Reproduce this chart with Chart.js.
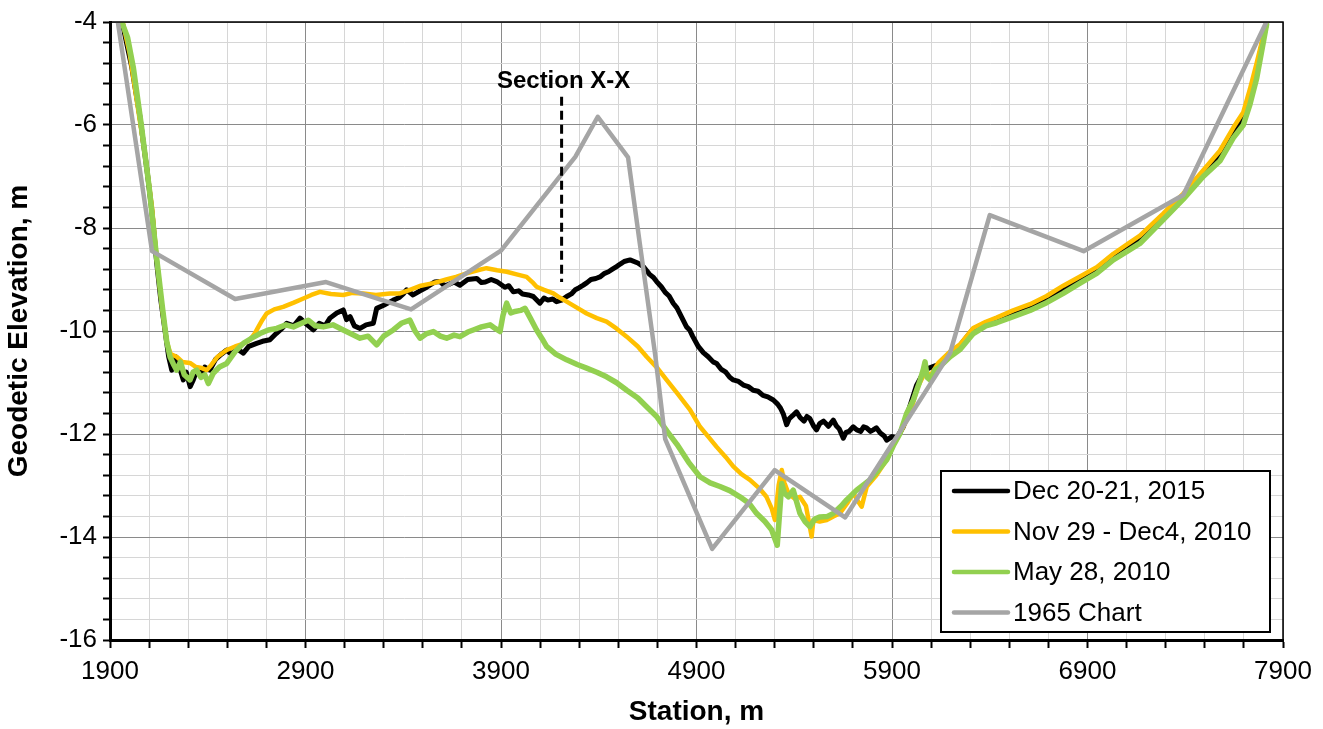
<!DOCTYPE html>
<html>
<head>
<meta charset="utf-8">
<script src="https://cdn.jsdelivr.net/npm/chart.js@4.4.1/dist/chart.umd.min.js"></script>
<style>
html, body { margin: 0; padding: 0; background: #fff; }
</style>
</head>
<body>
<canvas id="myChart" width="1323" height="729"></canvas>
<script>
// station (m), elevation (m)
const dec2015 = [
  [1965,-4.05],[1990,-4.5],[2011,-4.87],[2053,-5.84],[2090,-6.9],[2115,-7.7],[2139,-8.68],[2160,-9.4],
  [2181,-9.98],[2200,-10.5],[2216,-10.76],[2235,-10.5],[2255,-10.7],[2275,-10.95],[2290,-10.8],[2310,-11.08],
  [2326,-10.95],[2345,-10.75],[2365,-10.85],[2385,-10.7],[2411,-10.76],[2440,-10.55],[2470,-10.45],[2497,-10.37],
  [2520,-10.45],[2550,-10.35],[2582,-10.43],[2610,-10.3],[2650,-10.24],[2680,-10.2],[2718,-10.17],[2750,-10.05],
  [2780,-9.95],[2804,-9.85],[2840,-9.9],[2872,-9.75],[2900,-9.85],[2940,-9.98],[2970,-9.85],[3000,-9.9],
  [3025,-9.75],[3060,-9.65],[3093,-9.59],[3110,-9.78],[3128,-9.72],[3150,-9.9],[3179,-9.95],[3210,-9.88],
  [3247,-9.85],[3264,-9.56],[3300,-9.5],[3330,-9.44],[3349,-9.4],[3380,-9.35],[3400,-9.28],[3417,-9.2],
  [3450,-9.3],[3486,-9.22],[3520,-9.15],[3540,-9.1],[3560,-9.05],[3588,-9.04],[3610,-9.12],[3630,-9.1],
  [3660,-9.05],[3690,-9.11],[3730,-9.0],[3776,-8.98],[3800,-9.06],[3820,-9.05],[3850,-9.0],[3878,-9.04],
  [3920,-9.15],[3940,-9.12],[3963,-9.24],[3990,-9.22],[4010,-9.28],[4040,-9.3],[4065,-9.33],[4099,-9.46],
  [4120,-9.36],[4140,-9.4],[4165,-9.38],[4184,-9.43],[4210,-9.4],[4236,-9.33],[4260,-9.28],[4280,-9.2],
  [4300,-9.16],[4321,-9.11],[4340,-9.06],[4360,-9.0],[4385,-8.98],[4406,-8.95],[4430,-8.88],[4450,-8.85],
  [4470,-8.8],[4491,-8.75],[4510,-8.7],[4530,-8.65],[4560,-8.62],[4600,-8.68],[4628,-8.75],[4660,-8.9],
  [4680,-8.96],[4696,-9.04],[4720,-9.14],[4740,-9.25],[4760,-9.32],[4781,-9.46],[4800,-9.55],[4820,-9.7],
  [4849,-9.92],[4865,-9.98],[4880,-10.1],[4909,-10.3],[4935,-10.42],[4960,-10.5],[4985,-10.6],[5003,-10.63],
  [5025,-10.74],[5050,-10.8],[5070,-10.9],[5088,-10.95],[5115,-10.98],[5140,-11.05],[5165,-11.08],[5190,-11.15],
  [5215,-11.17],[5240,-11.25],[5265,-11.28],[5293,-11.34],[5315,-11.42],[5330,-11.5],[5345,-11.62],[5361,-11.82],
  [5375,-11.7],[5390,-11.65],[5412,-11.57],[5430,-11.68],[5450,-11.75],[5465,-11.66],[5480,-11.7],[5500,-11.85],
  [5514,-11.92],[5530,-11.8],[5550,-11.75],[5575,-11.85],[5600,-11.73],[5615,-11.84],[5630,-11.9],[5651,-12.08],
  [5665,-11.97],[5680,-11.95],[5702,-11.86],[5720,-11.92],[5740,-11.95],[5755,-11.86],[5770,-11.88],[5790,-11.95],
  [5804,-11.92],[5820,-11.88],[5840,-11.98],[5860,-12.04],[5873,-12.12],[5900,-12.05],[5924,-12.08],[5958,-11.86],
  [6026,-11.05],[6069,-10.75],[6137,-10.65],[6197,-10.43],[6248,-10.28],[6316,-9.96],[6435,-9.76],[6520,-9.64],
  [6606,-9.52],[6691,-9.36],[6776,-9.17],[6862,-8.97],[6947,-8.8],[7032,-8.54],[7117,-8.32],[7168,-8.2],
  [7287,-7.76],[7390,-7.38],[7492,-6.93],[7577,-6.6],[7646,-6.15],[7697,-5.88],[7731,-5.43],[7765,-4.92],[7816,-4.02]
];

const nov2010 = [
  [1965,-4.0],[2000,-4.6],[2040,-5.6],[2080,-6.6],[2115,-7.6],[2139,-8.6],[2165,-9.5],[2190,-10.2],
  [2210,-10.45],[2241,-10.5],[2270,-10.6],[2309,-10.62],[2340,-10.7],[2370,-10.72],[2395,-10.76],[2420,-10.65],
  [2450,-10.5],[2497,-10.37],[2540,-10.3],[2580,-10.25],[2616,-10.17],[2640,-10.05],[2659,-9.92],[2680,-9.78],
  [2701,-9.66],[2740,-9.58],[2786,-9.53],[2840,-9.45],[2889,-9.37],[2930,-9.3],[2974,-9.24],[3030,-9.28],
  [3093,-9.3],[3140,-9.26],[3196,-9.27],[3260,-9.3],[3332,-9.27],[3383,-9.27],[3434,-9.2],[3490,-9.12],
  [3554,-9.07],[3620,-9.0],[3670,-8.95],[3724,-8.88],[3780,-8.82],[3826,-8.78],[3880,-8.82],[3929,-8.85],
  [3980,-8.9],[4031,-8.95],[4060,-9.05],[4082,-9.14],[4120,-9.2],[4168,-9.27],[4200,-9.35],[4236,-9.43],
  [4290,-9.55],[4338,-9.66],[4390,-9.75],[4440,-9.82],[4490,-9.95],[4543,-10.11],[4600,-10.3],[4645,-10.5],
  [4700,-10.72],[4747,-10.95],[4800,-11.2],[4867,-11.53],[4918,-11.86],[4960,-12.05],[5003,-12.25],[5050,-12.45],
  [5088,-12.63],[5130,-12.78],[5173,-12.89],[5220,-13.05],[5258,-13.22],[5285,-13.45],[5301,-13.67],[5320,-13.0],
  [5336,-12.7],[5350,-12.95],[5370,-13.15],[5400,-13.25],[5429,-13.22],[5460,-13.4],[5489,-13.99],[5498,-13.67],
  [5530,-13.7],[5566,-13.67],[5600,-13.6],[5634,-13.54],[5670,-13.35],[5702,-13.15],[5725,-13.3],[5745,-13.41],
  [5771,-13.02],[5820,-12.8],[5873,-12.5],[5910,-12.2],[5941,-11.99],[5992,-11.6],[6030,-11.1],[6069,-10.8],
  [6100,-10.85],[6137,-10.62],[6197,-10.4],[6248,-10.26],[6316,-9.94],[6380,-9.82],[6435,-9.74],[6520,-9.6],
  [6606,-9.48],[6691,-9.32],[6776,-9.12],[6862,-8.94],[6947,-8.76],[7032,-8.5],[7117,-8.28],[7168,-8.15],
  [7287,-7.72],[7390,-7.33],[7492,-6.88],[7577,-6.5],[7646,-6.05],[7697,-5.75],[7731,-5.3],[7765,-4.8],[7816,-4.0]
];

const may2010 = [
  [1960,-4.0],[1990,-4.3],[2020,-4.9],[2060,-6.0],[2100,-7.2],[2139,-8.6],[2170,-9.6],[2190,-10.2],
  [2207,-10.5],[2225,-10.65],[2241,-10.76],[2260,-10.6],[2280,-10.85],[2309,-10.95],[2325,-10.8],[2343,-10.76],
  [2365,-10.9],[2385,-10.85],[2403,-11.02],[2428,-10.82],[2460,-10.7],[2497,-10.63],[2540,-10.4],[2582,-10.24],
  [2620,-10.15],[2667,-10.05],[2710,-9.98],[2753,-9.95],[2800,-9.88],[2838,-9.92],[2880,-9.85],[2914,-9.79],
  [2950,-9.9],[2991,-9.92],[3040,-9.88],[3093,-9.98],[3130,-10.05],[3179,-10.14],[3220,-10.1],[3264,-10.27],
  [3300,-10.1],[3349,-9.98],[3390,-9.85],[3434,-9.79],[3460,-10.0],[3486,-10.14],[3520,-10.05],[3554,-10.01],
  [3590,-10.1],[3622,-10.14],[3660,-10.08],[3690,-10.11],[3730,-10.02],[3758,-9.98],[3800,-9.92],[3844,-9.88],
  [3870,-9.95],[3895,-10.01],[3910,-9.7],[3929,-9.46],[3950,-9.65],[3972,-9.62],[4000,-9.6],[4023,-9.56],
  [4050,-9.75],[4082,-9.98],[4110,-10.15],[4133,-10.3],[4180,-10.45],[4236,-10.56],[4290,-10.65],[4338,-10.72],
  [4390,-10.8],[4440,-10.89],[4490,-11.0],[4543,-11.15],[4600,-11.3],[4645,-11.47],[4696,-11.66],[4750,-11.95],
  [4800,-12.2],[4860,-12.55],[4918,-12.83],[4970,-12.95],[5020,-13.02],[5070,-13.1],[5122,-13.22],[5170,-13.35],
  [5207,-13.54],[5250,-13.7],[5284,-13.86],[5313,-14.16],[5336,-12.96],[5350,-13.15],[5370,-13.22],[5395,-13.09],
  [5429,-13.54],[5455,-13.7],[5480,-13.8],[5505,-13.65],[5532,-13.61],[5570,-13.6],[5600,-13.54],[5640,-13.4],
  [5668,-13.28],[5719,-13.09],[5787,-12.89],[5830,-12.7],[5873,-12.5],[5910,-12.2],[5941,-11.99],[5975,-11.6],
  [6009,-11.34],[6040,-11.0],[6060,-10.75],[6069,-10.6],[6080,-10.9],[6095,-10.95],[6120,-10.75],[6137,-10.72],
  [6197,-10.5],[6248,-10.36],[6316,-10.05],[6380,-9.9],[6435,-9.84],[6520,-9.72],[6606,-9.6],[6691,-9.45],
  [6776,-9.27],[6862,-9.07],[6947,-8.88],[7032,-8.62],[7117,-8.42],[7168,-8.3],[7287,-7.84],[7390,-7.44],
  [7492,-7.0],[7577,-6.7],[7646,-6.25],[7697,-6.0],[7731,-5.6],[7765,-5.1],[7816,-4.05]
];

const chart1965 = [
  [1940,-4.0],[2115,-8.45],[2540,-9.38],[3005,-9.05],[3440,-9.58],[3900,-8.44],[4280,-6.62],[4395,-5.84],
  [4550,-6.63],[4610,-8.3],[4690,-10.5],[4740,-12.1],[4980,-14.23],[5300,-12.7],[5660,-13.62],[6197,-10.43],
  [6400,-7.75],[6880,-8.45],[7390,-7.36],[7815,-4.0]
];

const seriesLabels = ['Dec 20-21, 2015', 'Nov 29 - Dec4, 2010', 'May 28, 2010', '1965 Chart'];
const seriesColors = ['#000000', '#FFC000', '#92D050', '#A5A5A5'];

const sectionStation = 4210;
const sectionLabel = 'Section X-X';

const FONT = "'Liberation Sans', Arial, sans-serif";

function toXY(points) {
  return points.map(p => ({ x: p[0], y: p[1] }));
}

function isMultiple(v, step) {
  const r = v / step;
  return Math.abs(r - Math.round(r)) < 1e-6;
}

// box legend inside the plot, bottom right
const boxLegend = {
  id: 'boxLegend',
  afterDraw(chart) {
    const ctx = chart.ctx;
    const area = chart.chartArea;
    const w = 329, h = 161;
    const right = area.right - 13, top = area.bottom - 8 - h;
    const x0 = right - w;
    ctx.save();
    ctx.fillStyle = '#fff';
    ctx.fillRect(x0, top, w, h);
    ctx.strokeStyle = '#000';
    ctx.lineWidth = 2;
    ctx.strokeRect(x0, top, w, h);
    ctx.font = '26px ' + FONT;
    ctx.textBaseline = 'middle';
    chart.data.datasets.forEach((ds, i) => {
      const y = top + 20 + i * 40.5;
      ctx.strokeStyle = ds.borderColor;
      ctx.lineWidth = 4.5;
      ctx.lineCap = 'round';
      ctx.beginPath();
      ctx.moveTo(x0 + 13, y);
      ctx.lineTo(x0 + 67, y);
      ctx.stroke();
      ctx.fillStyle = '#000';
      ctx.fillText(ds.label, x0 + 72, y + 1);
    });
    ctx.restore();
  }
};

// top/right frame + section marker
const frameAndSection = {
  id: 'frameAndSection',
  afterDatasetsDraw(chart) {
    const ctx = chart.ctx;
    const a = chart.chartArea;
    const xs = chart.scales.x, ys = chart.scales.y;
    ctx.save();
    ctx.strokeStyle = '#000';
    ctx.lineWidth = 1.5;
    ctx.beginPath();
    ctx.moveTo(a.left, a.top);
    ctx.lineTo(a.right, a.top);
    ctx.lineTo(a.right, a.bottom);
    ctx.stroke();

    const px = xs.getPixelForValue(sectionStation);
    ctx.lineWidth = 3;
    ctx.setLineDash([9, 5]);
    ctx.beginPath();
    ctx.moveTo(px, ys.getPixelForValue(-5.45));
    ctx.lineTo(px, ys.getPixelForValue(-9.05));
    ctx.stroke();
    ctx.setLineDash([]);
    ctx.fillStyle = '#000';
    ctx.font = 'bold 24px ' + FONT;
    ctx.textAlign = 'center';
    ctx.textBaseline = 'alphabetic';
    ctx.fillText(sectionLabel, px + 2, ys.getPixelForValue(-5.28));
    ctx.restore();
  }
};

const allSeries = [dec2015, nov2010, may2010, chart1965];
const widths = [5, 4.5, 5.5, 4.5];

const ctx = document.getElementById('myChart').getContext('2d');

new Chart(ctx, {
  type: 'line',
  data: {
    datasets: allSeries.map((s, i) => ({
      label: seriesLabels[i],
      data: toXY(s),
      borderColor: seriesColors[i],
      backgroundColor: seriesColors[i],
      borderWidth: widths[i],
      pointRadius: 0,
      tension: 0,
      fill: false,
      order: 4 - i,
      borderJoinStyle: 'round',
      borderCapStyle: 'round'
    }))
  },
  options: {
    responsive: false,
    animation: false,
    events: [],
    layout: { padding: { top: 22, right: 40, left: 0, bottom: 0 } },
    plugins: {
      legend: { display: false },
      tooltip: { enabled: false }
    },
    scales: {
      x: {
        type: 'linear',
        min: 1900,
        max: 7900,
        afterFit(scale) { scale.height = 89; },
        ticks: {
          stepSize: 200,
          autoSkip: false,
          maxRotation: 0,
          padding: 8,
          color: '#000',
          font: { family: FONT, size: 26 },
          callback: v => isMultiple(v - 1900, 1000) ? String(v) : ''
        },
        grid: {
          color: c => isMultiple(c.tick.value - 1900, 1000) ? '#8a8a8a' : '#d6d6d6',
          lineWidth: 1,
          tickLength: 8,
          tickColor: '#000',
          tickWidth: 2
        },
        border: { color: '#000', width: 3 },
        title: {
          display: true,
          text: 'Station, m',
          color: '#000',
          font: { family: FONT, size: 28, weight: 'bold' },
          padding: { top: 0, bottom: 0 }
        }
      },
      y: {
        type: 'linear',
        min: -16,
        max: -4,
        afterFit(scale) { scale.width = 110; },
        ticks: {
          stepSize: 0.4,
          autoSkip: false,
          padding: 6,
          color: '#000',
          font: { family: FONT, size: 26 },
          callback: v => isMultiple(v, 2) ? String(Math.round(v)) : ''
        },
        grid: {
          color: c => isMultiple(c.tick.value, 2) ? '#8a8a8a' : '#d6d6d6',
          lineWidth: 1,
          tickLength: 7,
          tickColor: '#000',
          tickWidth: 2
        },
        border: { color: '#000', width: 3 },
        title: {
          display: true,
          text: 'Geodetic Elevation, m',
          color: '#000',
          font: { family: FONT, size: 28, weight: 'bold' },
          padding: { top: 2, bottom: 0 }
        }
      }
    }
  },
  plugins: [frameAndSection, boxLegend]
});
</script>
</body>
</html>
